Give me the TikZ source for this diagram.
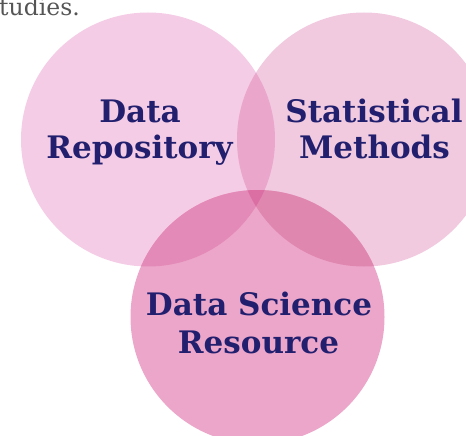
\documentclass[tikz,border=0pt]{standalone}
\usepackage{fontspec}
\setmainfont{DejaVu Serif}
\begin{document}
\begin{tikzpicture}[x=1pt,y=-1pt,
  lbl/.style={font=\bfseries\fontsize{31}{36}\selectfont, text=labelc, anchor=base, inner sep=0pt},
  toptext/.style={font=\fontsize{23.5}{26}\selectfont, text=capc, anchor=base east, inner sep=0pt}]
\definecolor{labelc}{HTML}{22206E}
\definecolor{capc}{HTML}{555555}
\definecolor{cL}{HTML}{F5CCE6}
\definecolor{cR}{HTML}{F1CAE0}
\definecolor{cB}{HTML}{ECA6CA}
\definecolor{cLR}{HTML}{EAA6CB}
\definecolor{cLB}{HTML}{E48AB8}
\definecolor{cRB}{HTML}{E087B0}
\definecolor{cLRB}{HTML}{DB6FA3}
\useasboundingbox (0,0) rectangle (466,436);
\begin{scope}
\clip (0,0) rectangle (466,436);
\coordinate (L) at (148,139.5);
\coordinate (R) at (364,139.5);
\coordinate (B) at (257.5,317);
\fill[cL] (L) circle (127);
\fill[cR] (R) circle (127);
\fill[cB] (B) circle (127);
\begin{scope}\clip (L) circle (127); \fill[cLR] (R) circle (127); \end{scope}
\begin{scope}\clip (L) circle (127); \fill[cLB] (B) circle (127); \end{scope}
\begin{scope}\clip (R) circle (127); \fill[cRB] (B) circle (127); \end{scope}
\begin{scope}\clip (L) circle (127); \clip (R) circle (127); \fill[cLRB] (B) circle (127); \end{scope}
\node[toptext] (top) at (80,16) {studies.};
\end{scope}
\node[lbl] (l1) at (140,122) {Data};
\node[lbl] (l2) at (139.5,158) {Repository};
\node[lbl] (r1) at (374,122) {Statistical};
\node[lbl] (r2) at (374.5,158) {Methods};
\node[lbl] (b1) at (259,315) {Data Science};
\node[lbl] (b2) at (258.5,353) {Resource};
\end{tikzpicture}
\end{document}
